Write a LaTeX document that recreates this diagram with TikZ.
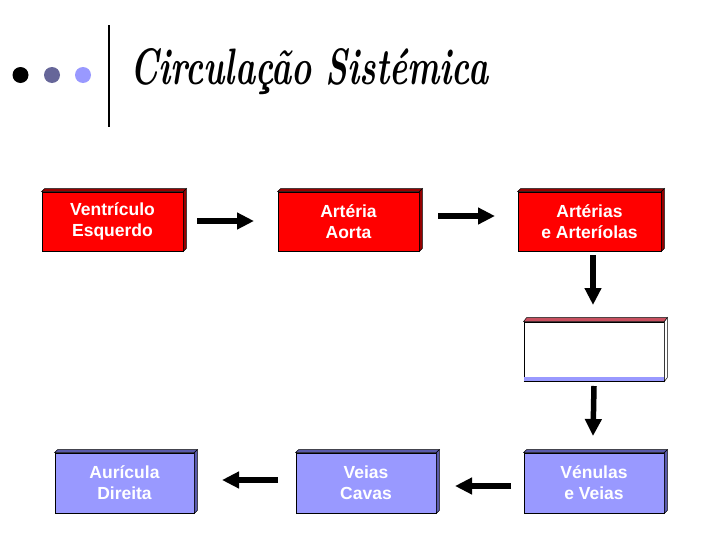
\documentclass[tikz,border=0pt]{standalone}
\usepackage{fontspec}
\newfontfamily\boxfont{Liberation Sans}
\usetikzlibrary{arrows.meta,calc}
\definecolor{boxred}{RGB}{255,0,0}
\definecolor{boxreddark}{RGB}{150,0,0}
\definecolor{boxblue}{RGB}{153,153,255}
\definecolor{boxbluedark}{RGB}{90,90,170}
\definecolor{dotgray}{RGB}{102,102,153}
\definecolor{dotlav}{RGB}{153,153,255}
\definecolor{topred}{RGB}{200,80,96}
\tikzset{
  flowbox/.style={draw=black, line width=0.8pt, minimum width=141pt, minimum height=59pt,
    inner sep=0pt, align=center, text=white, font=\boxfont\bfseries\fontsize{17.5}{21}\selectfont},
  redbox/.style={flowbox, fill=boxred},
  bluebox/.style={flowbox, fill=boxblue},
  bigarrow/.style={line width=5.5pt, -{Triangle[length=17pt,width=16pt]}},
}
\newcommand{\depthfaces}[2]{%
  \fill[#2, draw=black, line width=0.5pt] (#1.north west) -- ++(3,-3) -- ($(#1.north east)+(3,-3)$) -- (#1.north east) -- cycle;
  \fill[#2, draw=black, line width=0.5pt] (#1.north east) -- ++(3,-3) -- ($(#1.south east)+(3,-3)$) -- (#1.south east) -- cycle;
}
\begin{document}
\begin{tikzpicture}[x=1pt,y=-1pt]
\useasboundingbox[fill=white] (0,0) rectangle (728,546);
% header
\fill[black] (20.5,75) circle (8);
\fill[dotgray] (52,75) circle (8);
\fill[dotlav] (83,75) circle (8);
\draw[line width=2pt] (109,25) -- (109,127);
\node[anchor=base west, inner sep=0pt] (title) at (130,84)
  {\resizebox{358pt}{36pt}{\fontsize{30}{34}\selectfont\bfseries\itshape Circulação Sistémica}};
% boxes
\node[redbox] (ve) at (112.5,221.5) {Ventrículo\\Esquerdo};
\node[redbox] (aa) at (348.5,221.5) {Artéria\\Aorta};
\node[redbox, minimum width=143pt] (ar) at (589.5,221.5) {Artérias\\e Arteríolas};
\node[flowbox, fill=white, minimum width=140pt] (cap) at (594,351.5) {};
\node[bluebox, minimum width=139pt, minimum height=60pt] (ad) at (124.5,483) {Aurícula\\Direita};
\node[bluebox, minimum width=140pt, minimum height=60pt] (vc) at (366,483) {Veias\\Cavas};
\node[bluebox, minimum width=140pt, minimum height=60pt] (vv) at (594,483) {Vénulas\\e Veias};
\depthfaces{ve}{boxreddark}
\depthfaces{aa}{boxreddark}
\depthfaces{ar}{boxreddark}
\depthfaces{ad}{boxbluedark}
\depthfaces{vc}{boxbluedark}
\depthfaces{vv}{boxbluedark}
% capillary box details
\fill[topred, draw=black, line width=0.5pt] (cap.north west) -- ++(3,-4) -- ($(cap.north east)+(3,-4)$) -- (cap.north east) -- cycle;
\fill[white, draw=black, line width=0.5pt] (cap.north east) -- ++(3,-4) -- ($(cap.south east)+(3,-4)$) -- (cap.south east) -- cycle;
\fill[dotlav] ($(cap.south west)+(0.5,-4)$) rectangle ($(cap.south east)+(-0.5,-0.5)$);
\draw[line width=0.8pt] (cap.south west) -- (cap.south east);
% arrows
\coordinate (a1s) at (197,221); \coordinate (a1e) at (254,221);
\coordinate (a2s) at (438,216); \coordinate (a2e) at (495,216);
\coordinate (a3s) at (593,255); \coordinate (a3e) at (593,305);
\coordinate (a4s) at (594,386); \coordinate (a4e) at (593,436);
\coordinate (a5s) at (511,486); \coordinate (a5e) at (455,486);
\coordinate (a6s) at (278,480); \coordinate (a6e) at (222,480);
\draw[bigarrow] (a1s) -- (a1e);
\draw[bigarrow] (a2s) -- (a2e);
\draw[bigarrow] (a3s) -- (a3e);
\draw[bigarrow] (a4s) -- (a4e);
\draw[bigarrow] (a5s) -- (a5e);
\draw[bigarrow] (a6s) -- (a6e);
\end{tikzpicture}
\end{document}
